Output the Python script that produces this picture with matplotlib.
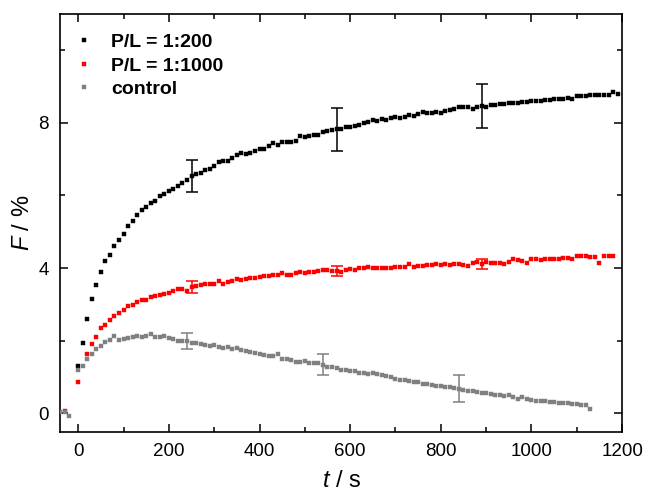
import numpy as np
import matplotlib
matplotlib.use("Agg")
import matplotlib.pyplot as plt
from matplotlib.ticker import MultipleLocator

plt.rcParams['font.family'] = ['Liberation Sans', 'DejaVu Sans']
plt.rcParams['mathtext.fontset'] = 'custom'
plt.rcParams['mathtext.it'] = 'Liberation Sans:italic'
plt.rcParams['mathtext.rm'] = 'Liberation Sans'

# --- data ---
black_t0 = 0
black_F = [
    1.29, 1.93, 2.60, 3.15, 3.52, 3.88, 4.19, 4.37, 4.60, 4.76,
    4.93, 5.15, 5.29, 5.45, 5.60, 5.69, 5.80, 5.85, 5.98, 6.05,
    6.12, 6.19, 6.26, 6.35, 6.42, 6.54, 6.58, 6.61, 6.70, 6.74,
    6.81, 6.91, 6.95, 6.95, 7.02, 7.11, 7.16, 7.13, 7.18, 7.23,
    7.27, 7.29, 7.36, 7.44, 7.40, 7.47, 7.48, 7.47, 7.50, 7.64,
    7.60, 7.65, 7.67, 7.68, 7.75, 7.77, 7.81, 7.82, 7.84, 7.90,
    7.88, 7.92, 7.95, 7.99, 8.03, 8.08, 8.05, 8.10, 8.08, 8.13,
    8.15, 8.13, 8.17, 8.21, 8.19, 8.25, 8.29, 8.26, 8.28, 8.30,
    8.28, 8.33, 8.36, 8.38, 8.44, 8.45, 8.44, 8.37, 8.45, 8.47,
    8.44, 8.49, 8.49, 8.52, 8.51, 8.55, 8.56, 8.55, 8.58, 8.57,
    8.60, 8.61, 8.60, 8.63, 8.64, 8.67, 8.66, 8.67, 8.68, 8.66,
    8.73, 8.75, 8.74, 8.77, 8.76, 8.77, 8.76, 8.78, 8.86, 8.80,
]

red_t0 = -30
red_F = [
    0.05, np.nan, np.nan,
    0.86, np.nan, 1.63, 1.90, 2.10, 2.34, 2.43, 2.56, 2.69, 2.76,
    2.83, 2.95, 2.97, 3.07, 3.13, 3.13, 3.20, 3.24, 3.27, 3.29,
    3.32, 3.37, 3.42, 3.41, 3.37, 3.47, 3.50, 3.52, 3.57, 3.57,
    3.57, 3.65, 3.55, 3.62, 3.65, 3.70, 3.67, 3.70, 3.72, 3.72,
    3.75, 3.77, 3.79, 3.80, 3.81, 3.86, 3.81, 3.81, 3.86, 3.89,
    3.86, 3.89, 3.89, 3.91, 3.94, 3.94, 3.91, 3.91, 3.89, 3.95,
    3.97, 3.94, 3.99, 4.00, 4.02, 4.00, 4.01, 4.01, 4.00, 4.01,
    4.04, 4.04, 4.03, 4.10, 4.04, 4.06, 4.06, 4.08, 4.08, 4.10,
    4.08, 4.10, 4.09, 4.10, 4.10, 4.08, 4.05, 4.14, 4.17, 4.12,
    4.16, 4.14, 4.13, 4.13, 4.12, 4.17, 4.26, 4.22, 4.20, 4.15,
    4.24, 4.24, 4.23, 4.24, 4.25, 4.25, 4.24, 4.27, 4.27, 4.26,
    4.33, 4.32, 4.32, 4.30, 4.31, 4.15, 4.33, 4.33, 4.33,
]

gray_t0 = -40
gray_F = [
    0.04, 0.02, -0.08, np.nan,
    1.20, 1.31, 1.49, 1.64, 1.77, 1.86, 1.96, 2.02, 2.12, 2.02,
    2.05, 2.07, 2.10, 2.12, 2.11, 2.12, 2.17, 2.09, 2.10, 2.13,
    2.06, 2.04, 2.00, 2.00, 1.98, 1.93, 1.92, 1.91, 1.88, 1.85,
    1.88, 1.83, 1.80, 1.82, 1.76, 1.79, 1.74, 1.70, 1.69, 1.67,
    1.64, 1.59, 1.58, 1.57, 1.62, 1.49, 1.50, 1.46, 1.42, 1.41,
    1.43, 1.39, 1.37, 1.37, 1.33, 1.28, 1.26, 1.25, 1.20, 1.20,
    1.17, 1.15, 1.11, 1.12, 1.08, 1.12, 1.07, 1.04, 1.03, 1.00,
    0.95, 0.92, 0.91, 0.89, 0.87, 0.85, 0.80, 0.81, 0.78, 0.76,
    0.76, 0.73, 0.71, 0.70, 0.67, 0.63, 0.62, 0.60, 0.59, 0.56,
    0.55, 0.53, 0.51, 0.49, 0.48, 0.50, 0.44, 0.39, 0.44, 0.40,
    0.36, 0.34, 0.34, 0.33, 0.32, 0.30, 0.29, 0.28, 0.28, 0.26,
    0.25, 0.23, 0.23, 0.12,
]

# error bars: time, centre, half-width
black_err_t = [250, 570, 890]
black_err_F = [6.54, 7.82, 8.47]
black_err = [0.45, 0.59, 0.60]
red_err_t = [250, 570, 890]
red_err_F = [3.47, 3.91, 4.12]
red_err = [0.16, 0.14, 0.14]
gray_err_t = [240, 540, 840]
gray_err_F = [1.98, 1.34, 0.68]
gray_err = [0.22, 0.30, 0.36]

labels = ['P/L = 1:200', 'P/L = 1:1000', 'control']
colors = ['#000000', '#ff0000', '#808080']

fig = plt.figure(figsize=(6.46, 4.94), dpi=100)
ax = fig.add_axes([0.093, 0.1255, 0.870, 0.846])

series = [(black_t0, black_F), (red_t0, red_F), (gray_t0, gray_F)]
errs = [(black_err_t, black_err_F, black_err),
        (red_err_t, red_err_F, red_err),
        (gray_err_t, gray_err_F, gray_err)]

for (t0, F), (et, ef, ee), lab, c in zip(series, errs, labels, colors):
    t = t0 + 10 * np.arange(len(F))
    ax.plot(t, F, 's', ms=2.7, color=c, mec=c, mew=0.3, label=lab, zorder=3)
    ax.errorbar(et, ef, yerr=ee, fmt='none', ecolor=c, elinewidth=1.1,
                capsize=4, capthick=1.1, zorder=4)

ax.set_xlim(-40, 1200)
ax.set_ylim(-0.52, 11.0)
ax.xaxis.set_major_locator(MultipleLocator(200))
ax.xaxis.set_minor_locator(MultipleLocator(100))
ax.yaxis.set_major_locator(MultipleLocator(4))
ax.yaxis.set_minor_locator(MultipleLocator(2))
ax.tick_params(which='both', direction='in', top=True, right=True,
               labelsize=13.5, width=1.1)
ax.tick_params(which='major', length=6, pad=8)
ax.tick_params(which='minor', length=3.5)
for s in ax.spines.values():
    s.set_linewidth(1.2)

ax.set_xlabel(r'$\it{t}$ / s', fontsize=17, labelpad=7)
ax.set_ylabel(r'$\it{F}$ / %', fontsize=17, labelpad=3)

ax.legend(loc='upper left', bbox_to_anchor=(0.008, 0.972), frameon=False,
          prop={'weight': 'bold', 'size': 14}, handlelength=1.2,
          handletextpad=0.8, labelspacing=0.3, borderaxespad=0,
          markerscale=1.0)

fig.savefig('out.png', dpi=100)
